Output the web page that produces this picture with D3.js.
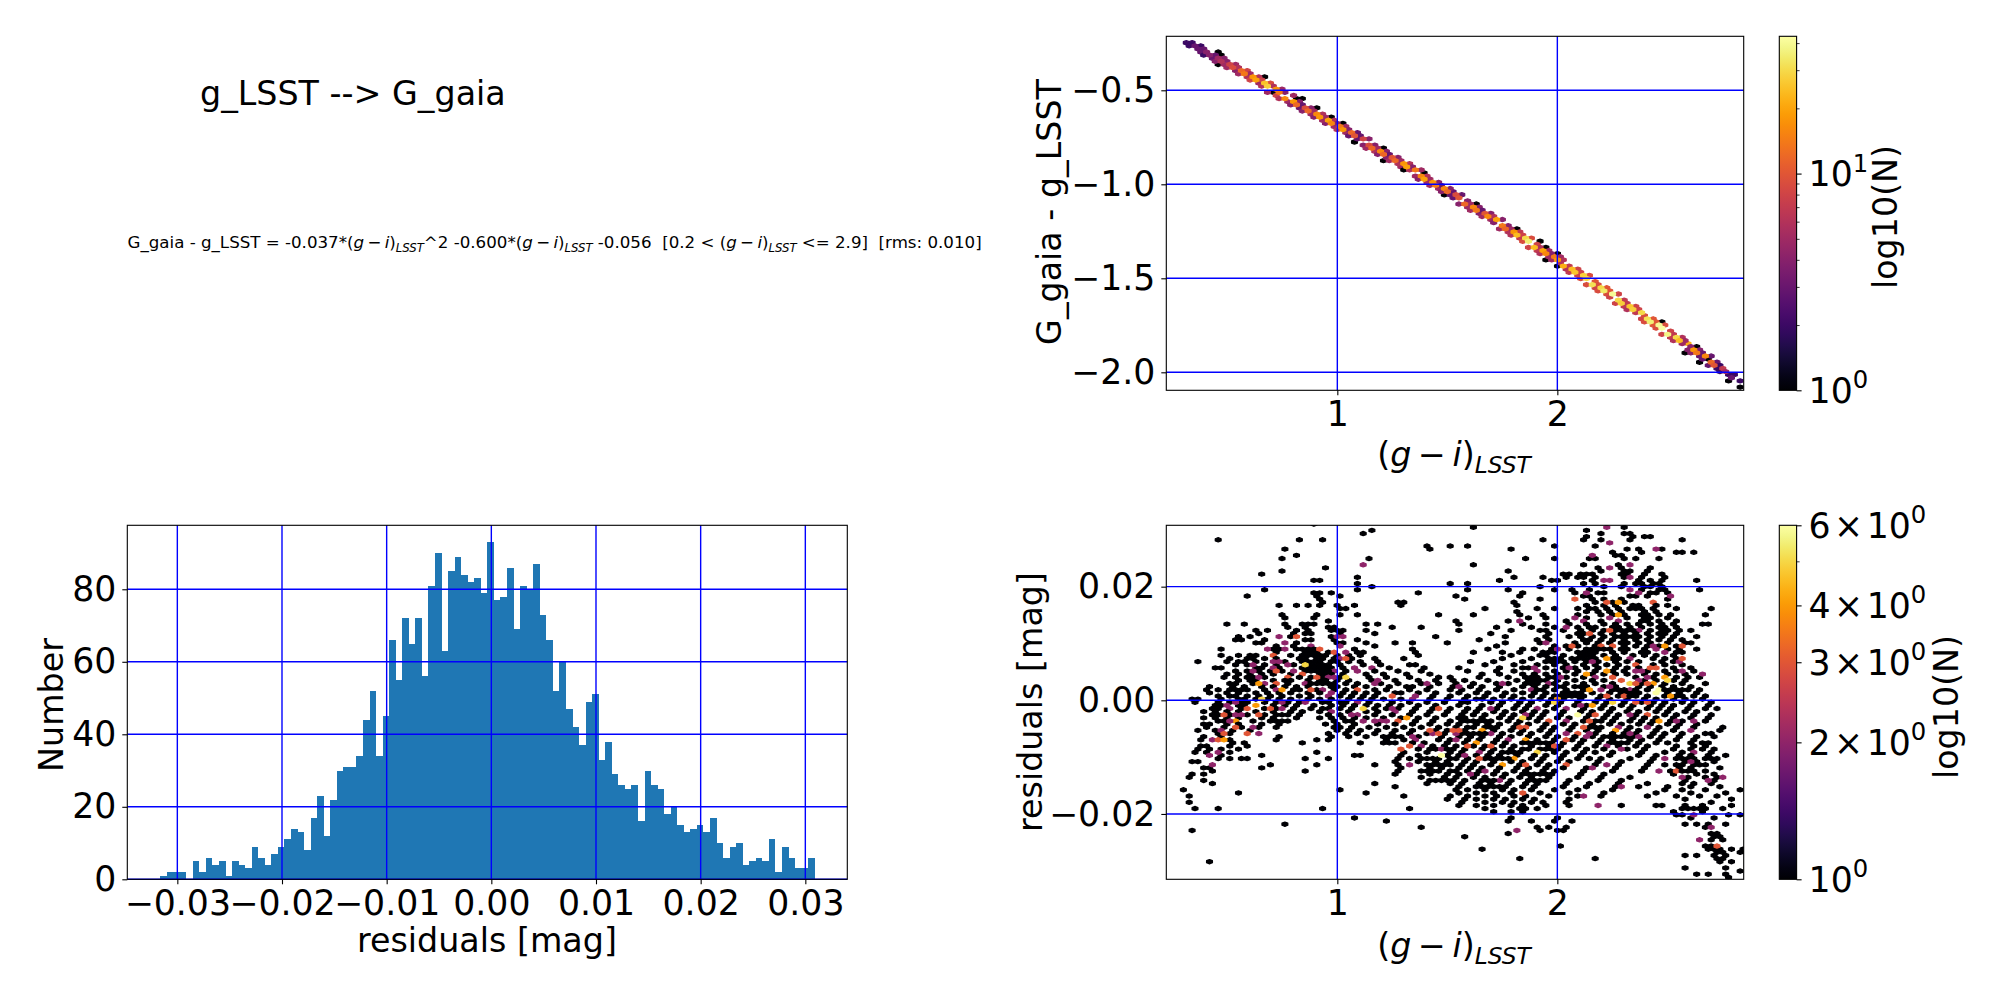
<!DOCTYPE html>
<html>
<head>
<meta charset="utf-8">
<script src="https://cdn.jsdelivr.net/npm/d3@7"></script>
<style>
body { margin: 0; background: #fff; }
svg text { font-family: "DejaVu Sans", sans-serif; fill: #000; white-space: pre; }
</style>
</head>
<body>
<svg id="fig" width="2000" height="1000"></svg>
<script>
// histogram of the residuals (100 bins)
const histMin = -0.03165, histMax = 0.0309;
const histCounts = [1,2,2,2,0,5,2,6,4,5,1,5,4,3,9,6,4,7,9,11,14,13,8,17,23,12,22,30,31,31,34,44,52,34,45,66,55,72,65,72,56,81,90,63,85,89,84,82,83,79,93,77,78,86,69,81,80,87,73,66,52,60,47,42,37,49,51,33,38,29,26,25,26,16,30,26,25,18,20,15,13,14,15,13,17,10,6,9,10,4,5,6,5,11,2,9,6,3,3,6];
const histXTicks = [-0.03,-0.02,-0.01,0,0.01,0.02,0.03];
const histYTicks = [0,20,40,60,80];

// upper right panel: colour term, read along the band
const bandX = [0.316,0.342,0.369,0.395,0.422,0.448,0.474,0.501,0.527,0.554,0.580,0.606,0.633,0.659,0.686,0.712,0.738,0.765,0.791,0.818,0.844,0.870,0.897,0.923,0.950,0.976,1.002,1.029,1.055,1.082,1.108,1.134,1.161,1.187,1.214,1.240,1.266,1.293,1.319,1.346,1.372,1.398,1.425,1.451,1.478,1.504,1.530,1.557,1.583,1.610,1.636,1.662,1.689,1.715,1.742,1.768,1.794,1.821,1.847,1.874,1.900,1.926,1.953,1.979,2.006,2.032,2.058,2.085,2.111,2.138,2.164,2.190,2.217,2.243,2.270,2.296,2.322,2.349,2.375,2.402,2.428,2.454,2.481,2.507,2.534,2.560,2.586,2.613,2.639,2.666,2.692,2.718,2.745,2.771,2.798,2.824];
const bandY = [-0.2493,-0.2655,-0.2824,-0.2988,-0.3158,-0.3323,-0.3487,-0.3659,-0.3825,-0.3998,-0.4165,-0.4332,-0.4506,-0.4675,-0.4850,-0.5020,-0.5189,-0.5367,-0.5537,-0.5716,-0.5887,-0.6060,-0.6240,-0.6413,-0.6594,-0.6769,-0.6943,-0.7126,-0.7302,-0.7485,-0.7662,-0.7840,-0.8025,-0.8203,-0.8389,-0.8569,-0.8749,-0.8937,-0.9118,-0.9306,-0.9489,-0.9671,-0.9861,-1.0045,-1.0236,-1.0421,-1.0606,-1.0799,-1.0985,-1.1179,-1.1366,-1.1554,-1.1750,-1.1938,-1.2135,-1.2325,-1.2515,-1.2713,-1.2904,-1.3103,-1.3296,-1.3488,-1.3689,-1.3883,-1.4085,-1.4280,-1.4475,-1.4679,-1.4875,-1.5079,-1.5277,-1.5475,-1.5681,-1.5880,-1.6087,-1.6287,-1.6487,-1.6696,-1.6897,-1.7107,-1.7309,-1.7512,-1.7723,-1.7927,-1.8139,-1.8344,-1.8549,-1.8763,-1.8969,-1.9184,-1.9391,-1.9599,-1.9815,-2.0024,-2.0242,-2.0452];
const bandN = [2,3,3,4,4,5,6,8,9,12,14,18,20,25,28,18,14,16,18,12,9,12,16,18,20,16,14,18,12,10,8,9,12,16,12,10,12,18,20,14,16,20,18,14,16,12,9,10,12,16,14,10,16,20,14,12,18,24,30,36,24,20,16,14,18,22,24,26,28,30,32,30,34,40,30,28,26,28,30,32,36,40,42,38,30,24,22,18,14,16,12,10,7,5,3,2];
const bandUpperN = [0,2,2,3,0,3,4,4,5,6,8,5,6,8,9,6,5,4,5,4,3,4,5,6,5,6,4,5,4,3,3,4,4,5,4,3,4,5,6,4,5,6,5,4,3,4,3,3,4,5,4,3,4,6,4,4,5,7,8,9,8,6,5,4,5,6,7,8,8,9,10,9,10,10,8,7,7,8,8,9,10,10,9,8,7,6,5,4,4,3,3,3,2,0,2,0];
const bandLowerN = [2,0,3,2,3,4,5,5,4,5,6,8,5,6,5,8,6,5,4,3,4,5,4,5,4,5,6,5,3,3,4,5,6,4,4,5,6,5,6,5,4,5,5,5,4,3,3,4,5,5,4,5,5,4,5,6,6,7,9,8,7,6,5,5,6,6,7,8,9,9,8,9,9,8,8,7,6,7,8,9,10,9,8,7,6,5,4,4,3,3,3,2,2,2,0,0];
const bandHalfWidth = 0.018;
const bandOutliers = [[0.446,-0.289],[0.472,-0.321],[0.446,-0.356],[0.487,-0.342],[0.675,-0.436],[0.684,-0.454],[0.699,-0.507],[0.771,-0.557],[0.806,-0.539],[0.835,-0.539],[0.872,-0.626],[0.896,-0.587],[0.936,-0.672],[0.974,-0.640],[1.032,-0.676],[1.075,-0.773],[1.206,-0.805],[1.220,-0.874],[1.287,-0.906],[1.299,-0.927],[1.394,-0.941],[1.461,-0.991],[1.481,-1.060],[1.525,-1.039],[1.568,-1.057],[1.635,-1.105],[1.751,-1.190],[1.820,-1.243],[1.872,-1.340],[1.887,-1.293],[1.922,-1.305],[1.951,-1.340],[1.939,-1.394],[2.003,-1.376],[2.003,-1.443],[2.264,-1.637],[2.380,-1.722],[2.472,-1.727],[2.568,-1.810],[2.583,-1.890],[2.597,-1.846],[2.635,-1.860],[2.646,-1.943],[2.684,-1.926],[2.777,-2.014],[2.780,-2.046],[2.829,-2.080]];
const colourYTicks = [-0.5,-1.0,-1.5,-2.0];
const colourXTicks = [1,2];

// lower right panel: cells holding one star, as [residual, [colours]]
const resOnes = [
[0.0308,[0.90]],[0.0304,[1.63,2.30]],[0.0299,[1.17,2.12]],[0.0293,[1.13,2.19,2.21,2.30,2.34]],[0.0288,[2.13,2.34,2.39,2.42]],
[0.0282,[0.46,0.84,0.92,1.93,2.13,2.19,2.32,2.57]],[0.0271,[1.41,1.50,1.58,1.98,2.00,2.17]],[0.0266,[0.77,1.41,1.78,2.32,2.38,2.47]],
[0.0260,[2.25,2.38,2.53,2.57,2.62]],[0.0255,[0.82,2.26,2.30]],[0.0249,[0.75,1.15,1.85,1.98,2.14,2.18,2.30,2.35,2.47]],
[0.0238,[1.61,2.13,2.29,2.32,2.33]],[0.0232,[0.95,2.19,2.28,2.42]],[0.0227,[0.75,1.77,2.21,2.30,2.33,2.41]],
[0.0222,[0.66,2.03,2.05,2.10,2.13,2.16,2.28,2.32,2.40,2.47]],[0.0216,[1.08,1.79,1.93,2.03,2.08,2.12,2.18,2.30,2.38,2.48]],
[0.0211,[0.90,0.93,1.75,1.98,2.01,2.17,2.37,2.43,2.47,2.63]],[0.0205,[1.08,1.50,1.60,2.11,2.17,2.30,2.35,2.39,2.44,2.46]],
[0.0199,[1.17,1.92,2.21,2.28,2.39,2.43,2.47]],[0.0194,[0.68,1.08,1.60,1.77,2.00,2.07,2.15,2.38,2.46,2.49,2.65]],
[0.0189,[0.90,0.93,0.98,1.38,1.83,2.08,2.18,2.22,2.42,2.46,2.50]],[0.0183,[0.60,0.91,1.02,1.54,1.84,2.12,2.15,2.33,2.36,2.42]],
[0.0178,[0.91,1.57,1.93,2.17,2.22,2.30,2.49]],[0.0172,[0.94,1.27,1.29,1.80,2.17,2.24,2.31,2.44]],
[0.0167,[0.74,0.82,0.88,0.93,1.01,1.08,1.30,1.82,2.13,2.20,2.26,2.35,2.38,2.44,2.51]],
[0.0161,[1.02,1.05,1.68,1.90,2.00,2.10,2.14,2.16,2.22,2.28,2.33,2.35,2.39,2.43,2.53,2.69]],[0.0156,[1.82,2.12,2.18,2.24,2.30,2.40,2.44]],
[0.0150,[0.76,0.91,1.02,1.08,1.47,1.62,1.84,1.94,2.10,2.20,2.25,2.31,2.37,2.41,2.46,2.52,2.66]],[0.0145,[0.77,0.90,1.86,1.96,2.13,2.23,2.33,2.39,2.43,2.50]],
[0.0139,[0.97,1.53,1.77,2.03,2.05,2.11,2.19,2.27,2.37,2.41,2.47,2.55]],
[0.0134,[0.50,0.58,0.76,0.85,0.87,0.89,1.12,1.19,1.56,1.84,1.95,2.06,2.14,2.21,2.26,2.31,2.36,2.42,2.48,2.52,2.66,2.68]],
[0.0128,[0.77,0.86,0.97,0.98,1.26,1.37,1.72,1.88,1.98,2.08,2.14,2.18,2.24,2.29,2.33,2.38,2.45,2.50,2.53]],
[0.0123,[0.64,0.69,0.82,0.88,1.00,1.12,1.55,1.80,1.91,1.94,2.04,2.10,2.16,2.22,2.27,2.32,2.36,2.41,2.47,2.51,2.56,2.60]],
[0.0117,[0.65,0.81,0.86,0.89,1.00,1.18,1.70,1.97,2.09,2.13,2.19,2.25,2.30,2.35,2.40,2.45,2.49,2.55]],
[0.0112,[0.55,0.61,0.79,1.44,1.76,1.95,2.05,2.10,2.16,2.21,2.27,2.33,2.38,2.43,2.48,2.54,2.63]],
[0.0106,[0.54,0.56,0.66,0.85,0.88,0.98,1.08,1.65,1.90,1.96,2.11,2.15,2.20,2.24,2.30,2.35,2.40,2.46,2.51,2.56]],
[0.0101,[0.63,0.65,0.81,1.14,1.25,1.35,1.49,1.76,1.92,2.08,2.13,2.19,2.23,2.28,2.33,2.38,2.43,2.50,2.58,2.60]],
[0.0096,[0.72,0.80,0.88,1.18,1.73,1.98,2.04,2.10,2.16,2.21,2.26,2.31,2.36,2.41,2.47,2.53]],
[0.0090,[0.46,0.72,0.74,0.82,0.86,0.89,1.07,1.33,1.68,1.85,1.90,1.97,2.06,2.12,2.17,2.23,2.29,2.33,2.39,2.44,2.50,2.56,2.63]],
[0.0084,[0.72,0.86,0.88,0.91,0.97,1.09,1.13,1.35,1.62,1.75,1.84,1.93,1.99,2.08,2.14,2.18,2.25,2.31,2.37,2.42,2.48,2.54,2.58]],
[0.0079,[0.48,0.56,0.60,0.63,0.70,0.78,0.84,0.88,0.92,0.95,1.00,1.04,1.10,1.36,1.78,1.92,1.95,2.04,2.10,2.15,2.20,2.27,2.35,2.40,2.46,2.52]],
[0.0073,[0.52,0.58,0.62,0.67,0.72,0.82,0.86,0.90,0.94,0.98,1.02,1.06,1.17,1.29,1.75,1.88,1.97,2.01,2.07,2.12,2.17,2.24,2.29,2.33,2.44,2.50,2.55]],
[0.0068,[0.36,0.50,0.54,0.59,0.64,0.75,0.84,0.87,0.92,0.96,1.00,1.04,1.11,1.18,1.61,1.72,1.85,1.94,2.03,2.09,2.14,2.19,2.26,2.31,2.37,2.47,2.53]],
[0.0062,[0.55,0.60,0.68,0.72,0.80,0.88,0.91,0.94,0.97,1.00,1.13,1.20,1.32,1.36,1.68,1.80,1.90,1.98,2.05,2.11,2.16,2.23,2.29,2.35,2.43,2.50,2.56]],
[0.0057,[0.45,0.48,0.62,0.66,0.74,0.83,0.89,0.93,0.96,1.02,1.07,1.17,1.23,1.40,1.54,1.74,1.85,1.88,1.95,2.02,2.07,2.13,2.19,2.26,2.33,2.38,2.45,2.52,2.60]],
[0.0051,[0.54,0.58,0.64,0.70,0.76,0.86,0.90,0.93,0.99,1.05,1.10,1.16,1.27,1.37,1.60,1.72,1.80,1.92,1.98,2.04,2.10,2.18,2.24,2.30,2.36,2.42,2.48,2.54,2.62]],
[0.0046,[0.50,0.56,0.61,0.66,0.72,0.80,0.85,0.91,0.95,0.98,1.03,1.12,1.20,1.31,1.43,1.66,1.75,1.84,1.89,1.95,2.00,2.07,2.15,2.21,2.27,2.33,2.40,2.46,2.51,2.57]],
[0.0040,[0.49,0.53,0.58,0.62,0.68,0.77,0.83,0.89,0.93,0.96,1.01,1.14,1.22,1.33,1.46,1.50,1.64,1.78,1.86,1.92,1.97,2.03,2.12,2.18,2.25,2.36,2.43,2.49,2.55,2.60,2.64]],
[0.0035,[0.55,0.60,0.64,0.70,0.75,0.80,0.87,0.91,0.94,1.00,1.05,1.17,1.26,1.37,1.44,1.52,1.58,1.68,1.81,1.88,1.94,2.00,2.09,2.15,2.22,2.28,2.40,2.46,2.52,2.58]],
[0.0029,[0.50,0.54,0.62,0.68,0.72,0.78,0.85,0.89,0.92,0.98,1.03,1.09,1.20,1.28,1.39,1.47,1.55,1.62,1.72,1.78,1.85,1.91,1.97,2.05,2.11,2.18,2.25,2.32,2.38,2.44,2.50,2.56,2.66]],
[0.0024,[0.42,0.52,0.57,0.65,0.70,0.76,0.82,0.87,0.96,1.01,1.07,1.12,1.24,1.31,1.35,1.43,1.52,1.60,1.67,1.75,1.83,1.89,1.95,2.02,2.08,2.14,2.21,2.27,2.36,2.42,2.47,2.54,2.62]],
[0.0018,[0.40,0.47,0.51,0.56,0.60,0.66,0.73,0.79,0.84,0.90,0.94,0.99,1.05,1.10,1.16,1.22,1.33,1.41,1.50,1.57,1.64,1.72,1.80,1.87,1.92,1.99,2.05,2.12,2.19,2.25,2.33,2.40,2.46,2.52,2.60,2.65]],
[0.0013,[0.43,0.50,0.55,0.62,0.68,0.74,0.78,0.86,0.92,0.97,1.03,1.08,1.14,1.19,1.26,1.30,1.38,1.46,1.54,1.62,1.69,1.77,1.84,1.90,1.96,2.03,2.10,2.16,2.23,2.30,2.37,2.44,2.50,2.56,2.63]],
[0.0007,[0.47,0.51,0.55,0.60,0.64,0.70,0.76,0.82,0.88,0.95,1.00,1.06,1.12,1.18,1.24,1.36,1.44,1.52,1.60,1.67,1.74,1.80,1.87,1.93,2.00,2.07,2.13,2.20,2.27,2.35,2.41,2.48,2.54,2.61,2.68]],
[0.0002,[0.35,0.37,0.48,0.54,0.58,0.63,0.67,0.73,0.80,0.86,0.93,0.98,1.04,1.10,1.15,1.22,1.28,1.42,1.50,1.58,1.62,1.65,1.71,1.78,1.85,1.91,1.98,2.04,2.11,2.18,2.25,2.32,2.39,2.46,2.52,2.58,2.65]],
[-0.0004,[0.36,0.45,0.50,0.56,0.60,0.66,0.71,0.78,0.84,0.92,0.96,1.00,1.03,1.08,1.14,1.26,1.33,1.40,1.48,1.56,1.60,1.69,1.76,1.83,1.89,1.96,2.02,2.09,2.16,2.23,2.30,2.37,2.44,2.50,2.56,2.63,2.70]],
[-0.0009,[0.44,0.48,0.54,0.58,0.62,0.70,0.76,0.82,0.90,0.97,1.02,1.08,1.13,1.19,1.24,1.30,1.38,1.46,1.54,1.67,1.74,1.81,1.87,1.94,2.00,2.07,2.14,2.21,2.28,2.35,2.42,2.48,2.54,2.61,2.68]],
[-0.0015,[0.43,0.47,0.52,0.56,0.60,0.66,0.73,0.80,0.87,0.92,0.96,1.00,1.06,1.16,1.22,1.28,1.36,1.44,1.52,1.60,1.65,1.72,1.79,1.85,1.92,1.98,2.05,2.12,2.19,2.26,2.33,2.40,2.46,2.52,2.59,2.66,2.72]],
[-0.0020,[0.40,0.45,0.50,0.54,0.64,0.70,0.78,0.84,0.93,0.97,1.04,1.12,1.18,1.26,1.34,1.42,1.50,1.58,1.63,1.70,1.77,1.83,1.90,1.96,2.03,2.10,2.17,2.24,2.31,2.38,2.44,2.50,2.57,2.64]],
[-0.0026,[0.42,0.47,0.52,0.60,0.68,0.76,0.83,0.95,1.02,1.10,1.16,1.24,1.32,1.40,1.48,1.56,1.61,1.68,1.75,1.81,1.88,1.94,2.01,2.08,2.15,2.22,2.29,2.36,2.42,2.48,2.55,2.62,2.70]],
[-0.0031,[0.40,0.45,0.50,0.56,0.66,0.72,0.81,0.93,0.98,1.02,1.08,1.14,1.22,1.30,1.38,1.46,1.54,1.59,1.66,1.73,1.79,1.86,1.92,1.99,2.06,2.13,2.20,2.27,2.34,2.40,2.46,2.53,2.60,2.68]],
[-0.0037,[0.45,0.48,0.55,0.62,0.70,0.77,0.98,1.04,1.06,1.12,1.20,1.28,1.36,1.44,1.52,1.57,1.64,1.71,1.77,1.84,1.90,1.97,2.04,2.11,2.18,2.25,2.32,2.38,2.44,2.51,2.58,2.66]],
[-0.0042,[0.38,0.42,0.50,0.54,0.66,0.73,0.95,1.00,1.09,1.18,1.26,1.34,1.42,1.50,1.55,1.62,1.69,1.75,1.82,1.88,1.95,2.02,2.09,2.16,2.23,2.30,2.36,2.42,2.49,2.56,2.64]],
[-0.0048,[0.41,0.48,0.57,0.64,0.72,0.98,1.02,1.07,1.14,1.22,1.30,1.38,1.46,1.53,1.60,1.67,1.73,1.80,1.86,1.93,2.00,2.07,2.14,2.21,2.28,2.34,2.40,2.47,2.54,2.62,2.76]],
[-0.0053,[0.37,0.44,0.52,0.60,0.99,1.04,1.11,1.18,1.26,1.34,1.44,1.51,1.58,1.65,1.71,1.78,1.84,1.91,1.98,2.05,2.12,2.19,2.26,2.32,2.38,2.45,2.52,2.60,2.73]],
[-0.0059,[0.46,0.51,0.97,1.03,1.09,1.16,1.24,1.33,1.42,1.49,1.56,1.63,1.69,1.76,1.82,1.89,1.96,2.03,2.10,2.17,2.24,2.30,2.36,2.43,2.50,2.58,2.66,2.70]],
[-0.0064,[0.40,0.47,0.74,0.96,1.06,1.13,1.21,1.30,1.38,1.47,1.54,1.61,1.67,1.74,1.80,1.87,1.94,2.01,2.08,2.15,2.22,2.28,2.34,2.41,2.48,2.55,2.64,2.72]],
[-0.0070,[0.38,0.44,0.50,0.73,0.90,0.95,1.22,1.30,1.36,1.45,1.52,1.59,1.65,1.72,1.78,1.85,1.92,1.99,2.06,2.13,2.20,2.26,2.32,2.39,2.46,2.53,2.62]],
[-0.0075,[0.52,0.58,0.85,1.10,1.33,1.40,1.50,1.57,1.63,1.70,1.76,1.83,1.90,1.97,2.04,2.11,2.18,2.24,2.30,2.37,2.44,2.51,2.60,2.65,2.69]],
[-0.0081,[0.37,0.39,0.41,0.50,0.60,1.37,1.44,1.48,1.55,1.61,1.68,1.74,1.81,1.88,1.95,2.02,2.09,2.16,2.22,2.28,2.35,2.42,2.55,2.63,2.67]],
[-0.0086,[0.36,0.43,0.48,0.55,1.36,1.42,1.46,1.53,1.59,1.66,1.72,1.79,1.86,1.93,2.00,2.07,2.14,2.20,2.33,2.40,2.53,2.60,2.65,2.72]],
[-0.0092,[0.35,0.41,0.52,0.90,1.30,1.40,1.51,1.57,1.64,1.70,1.77,1.84,1.91,1.98,2.05,2.12,2.18,2.26,2.38,2.50,2.58,2.63,2.70]],
[-0.0097,[0.47,0.66,1.08,1.11,1.28,1.38,1.49,1.55,1.62,1.68,1.75,1.82,1.89,1.96,2.03,2.10,2.24,2.36,2.46,2.56,2.61,2.68,2.76]],
[-0.0103,[0.45,0.50,0.56,0.60,0.86,0.97,1.28,1.34,1.47,1.53,1.60,1.66,1.73,1.80,1.87,1.94,2.01,2.08,2.14,2.21,2.34,2.44,2.54,2.59,2.66,2.72]],
[-0.0108,[0.34,0.36,1.26,1.36,1.45,1.51,1.58,1.64,1.71,1.78,1.85,1.92,1.99,2.06,2.18,2.30,2.43,2.58,2.64,2.70]],
[-0.0114,[0.70,0.91,1.16,1.28,1.33,1.43,1.49,1.56,1.62,1.69,1.76,1.83,1.90,1.97,2.04,2.16,2.28,2.42,2.50,2.56,2.62,2.68]],
[-0.0119,[0.38,0.41,0.66,1.30,1.41,1.47,1.54,1.60,1.67,1.74,1.81,1.88,1.95,2.02,2.14,2.26,2.40,2.55,2.61,2.74]],
[-0.0125,[0.43,0.86,1.27,1.39,1.45,1.52,1.58,1.65,1.72,1.79,1.86,1.93,2.00,2.12,2.24,2.38,2.52,2.59,2.66]],
[-0.0130,[0.35,0.38,1.25,1.43,1.50,1.56,1.63,1.70,1.77,1.84,1.91,1.98,2.10,2.22,2.53,2.64,2.70]],
[-0.0136,[0.32,1.37,1.48,1.54,1.61,1.68,1.75,1.82,1.89,1.96,2.08,2.20,2.32,2.60,2.68,2.73]],
[-0.0141,[0.40,1.41,1.46,1.52,1.59,1.66,1.73,1.80,1.87,1.94,2.06,2.18,2.30,2.58,2.72]],
[-0.0147,[0.43,1.18,1.40,1.50,1.57,1.64,1.71,1.78,1.85,1.92,2.04,2.14,2.28,2.40,2.56,2.62,2.70]],
[-0.0152,[1.27,1.55,1.62,1.69,1.76,1.83,1.90,2.02,2.12,2.26,2.38,2.50,2.60,2.75]],
[-0.0158,[0.30,1.02,1.53,1.60,1.67,1.74,1.81,1.88,2.00,2.10,2.24,2.48,2.58,2.68,2.83]],
[-0.0163,[0.55,1.12,1.55,1.62,1.72,1.79,1.92,2.06,2.22,2.46,2.62,2.77]],
[-0.0168,[0.33,1.31,1.52,1.59,1.66,1.72,1.80,1.86,1.95,2.08,2.20,2.40,2.55,2.64,2.72]],
[-0.0174,[1.50,1.58,1.64,1.70,1.76,1.83,1.90,2.05,2.58,2.80]],
[-0.0179,[0.33,1.56,1.68,1.74,1.81,1.88,1.93,2.05,2.70]],
[-0.0185,[1.54,1.62,1.70,1.78,1.85,1.96,2.05,2.28,2.45,2.48,2.57,2.67,2.79]],
[-0.0191,[0.36,0.46,0.93,1.33,1.66,1.82,1.86,1.91,2.57,2.59,2.62,2.64,2.68,2.74]],
[-0.0196,[1.72,1.78,1.84,2.53,2.66]],[-0.0201,[2.55,2.58,2.77,2.82]],[-0.0207,[1.09,1.78,1.99,2.60,2.72]],
[-0.0212,[1.23,1.77,1.88,2.00,2.06]],[-0.0218,[0.77,2.57,2.63,2.68,2.76]],[-0.0223,[1.37,1.92,1.95,2.03,2.66]],
[-0.0229,[0.34,1.92,2.00,2.03]],[-0.0234,[1.77,2.70,2.72]],[-0.0240,[1.57,2.72,2.75]],[-0.0245,[2.70,2.74]],
[-0.0256,[2.01,2.67,2.70]],[-0.0262,[1.66,2.68,2.71,2.74,2.80,2.84]],[-0.0267,[2.72,2.76,2.82,2.85]],[-0.0272,[2.58,2.63,2.72,2.76]],
[-0.0278,[1.82,2.17,2.72,2.75]],[-0.0284,[0.42,2.74,2.78]],[-0.0295,[2.58,2.76]],[-0.0300,[2.84]],[-0.0306,[2.63,2.69,2.76]],[-0.0311,[2.77]]
];
// black clumps of touching cells in the crowded parts of the cloud
const resClumps = [
[0.0123,[0.97,1.00,1.03,2.29,2.32,2.35]],[0.0112,[0.97,1.00,1.03,2.29,2.32,2.35]],[0.0101,[0.99,1.02]],
[0.0090,[0.85,0.88,0.91,2.18,2.21,2.24]],[0.0084,[2.09,2.12,2.15,2.18,1.97,2.00]],[0.0079,[0.86,0.89,0.92,2.10,2.13,2.16]],[0.0073,[2.09,2.12,2.15,2.18,1.97,2.00]],[0.0068,[0.86,0.89,1.98,2.01]],
[0.0057,[0.86,0.89,0.92,0.95,0.98]],[0.0051,[0.88,0.91,0.94,0.97]],[0.0040,[0.87,0.90,0.93,0.96,1.86,1.89,1.92,1.95,1.98]],[0.0035,[1.87,1.90,1.93,1.96,1.99]],
[0.0029,[0.87,0.90,0.93,0.96,1.86,1.89,1.92,1.95,1.98]],[0.0024,[2.01,2.04,2.07,2.10,2.13]],[0.0018,[0.51,0.54,0.57,1.88,1.91,1.94,2.27,2.30,2.33,2.36,2.48,2.51,2.54,2.57]],
[0.0013,[2.02,2.05,2.08,2.11,2.28,2.31,2.34]],[0.0007,[0.52,0.55,0.58,2.01,2.04,2.07,2.10,2.13,2.27,2.30,2.33,2.36,2.48,2.51,2.54,2.57]],
[-0.0026,[0.68,0.71,0.74,0.77]],[-0.0035,[0.69,0.72,0.75,1.59,1.62,1.65,1.68,2.12,2.15,2.18,2.21]],[-0.0046,[1.60,1.63,1.66,1.69,2.12,2.15,2.18,2.21]],[-0.0058,[1.59,1.62,1.65,1.68,1.71]],
[-0.0064,[1.21,1.24,1.27,2.24,2.27,2.30,2.33,2.36]],[-0.0075,[1.21,1.24,1.27,1.85,1.88,1.91,1.94,1.97,2.24,2.27,2.30,2.33,2.36]],[-0.0086,[1.38,1.41,1.44,1.47,1.50,1.85,1.88,1.91,1.94,1.97]],[-0.0092,[1.71,1.74,1.77,1.80]],
[-0.0103,[1.38,1.41,1.44,1.47,1.50,1.71,1.74,1.77,1.80,2.54,2.57,2.60,2.63,2.66,2.69]],[-0.0114,[1.40,1.43,1.46,1.49,1.52,2.55,2.58,2.61,2.64,2.67]],
[-0.0125,[1.41,1.44,1.47,1.50,1.53,2.54,2.57,2.60,2.63,2.66]],[-0.0130,[1.86,1.89,1.92,1.95,1.97]],[-0.0141,[1.48,1.51,1.53,1.66,1.69,1.72,1.74,1.87,1.90,1.93,1.96]],[-0.0152,[1.66,1.69,1.72,1.74]]
];
// cells holding two stars and more, as [colour, residual]
const resTwos = [[0.74,0.0112],[0.99,0.0112],[1.03,0.0112],[0.69,0.0090],[0.77,0.0100],[0.77,0.0090],[0.89,0.0094],[1.02,0.0094],[1.03,0.0084],[0.62,0.0062],[0.70,0.0068],[0.74,0.0068],[0.78,0.0062],[0.71,0.0056],[0.81,0.0050],[0.98,0.0050],[1.02,0.0074],[1.07,0.0056],[1.10,0.0050],[1.17,0.0056],[1.19,0.0036],[1.41,0.0030],[1.54,0.0024],[0.62,0.0050],[0.64,0.0040],[0.66,0.0030],[0.86,0.0030],[0.95,0.0042],[0.98,0.0042],[1.16,0.0030],[0.71,0.0018],[0.74,0.0018],[0.94,0.0018],[0.97,0.0006],[0.98,0.0012],[1.36,0.0009],[1.34,0.0004],[0.54,-0.0002],[0.76,-0.0002],[0.86,-0.0002],[1.10,-0.0004],[0.50,-0.0010],[0.51,-0.0017],[0.75,-0.0014],[0.98,-0.0020],[1.07,-0.0026],[1.10,-0.0026],[1.13,-0.0035],[1.16,-0.0035],[1.19,-0.0035],[1.22,-0.0038],[1.26,-0.0017],[1.27,-0.0020],[0.53,-0.0026],[0.56,-0.0026],[0.50,-0.0035],[0.62,-0.0046],[0.48,-0.0052],[0.63,-0.0058],[0.44,-0.0070],[0.47,-0.0090],[0.42,-0.0096],[0.44,-0.0114],[1.33,-0.0064],[1.36,-0.0070],[1.39,-0.0082],[1.44,-0.0061],[1.48,-0.0087],[1.53,-0.0070],[1.54,-0.0058],[1.34,-0.0114],[1.13,0.0238],
[2.22,0.0304],[2.23,0.0276],[2.16,0.0255],[2.44,0.0266],[2.23,0.0232],[2.32,0.0238],[2.33,0.0216],[2.22,0.0211],[2.23,0.0211],[2.33,0.0194],[2.13,0.0189],[2.37,0.0189],[2.51,0.0183],[1.82,0.0139],[2.07,0.0145],[2.12,0.0139],[2.24,0.0145],[2.28,0.0139],[2.03,0.0128],[2.37,0.0123],[2.44,0.0096],[2.45,0.0090],[2.48,0.0084],[2.34,0.0073],[2.15,0.0068],[2.56,0.0068],[1.94,0.0101],[1.99,0.0090],[1.89,0.0056],[1.92,0.0050],[2.06,0.0056],[2.02,0.0040],[1.75,0.0030],[1.88,0.0018],[1.96,0.0030],[2.16,0.0039],[2.36,0.0050],[2.39,0.0050],[2.42,0.0042],[2.38,0.0036],[2.33,0.0018],[2.24,0.0024],[2.20,0.0018],[2.66,0.0046],[2.57,0.0052],[1.69,-0.0014],[1.86,-0.0026],[1.91,-0.0014],[2.03,-0.0014],[2.10,-0.0008],[2.32,-0.0026],[2.34,-0.0026],[2.42,-0.0046],[2.45,-0.0035],[2.54,-0.0036],[2.60,-0.0052],[2.63,-0.0035],[1.71,-0.0058],[1.78,-0.0070],[2.03,-0.0038],[2.04,-0.0058],[2.15,-0.0058],[2.13,-0.0064],[2.27,-0.0046],[2.33,-0.0058],[2.37,-0.0064],[2.22,-0.0082],[2.30,-0.0087],[2.63,-0.0090],[2.61,-0.0108],[2.49,-0.0102],[2.46,-0.0126],[2.16,-0.0118],[2.22,-0.0114],[2.57,-0.0136],[2.69,-0.0140],[2.75,-0.0134],[2.28,-0.0152],[2.12,-0.0168],[2.18,-0.0185],[2.62,-0.0202],[2.70,-0.0223],[2.65,-0.0246],[1.81,-0.0229],[1.65,-0.0091],[1.60,-0.0130],[1.58,-0.0099],[1.66,-0.0126],[1.75,-0.0141]];
const resThrees = [[0.82,0.0112],[0.71,0.0078],[0.93,0.0090],[0.99,0.0084],[1.05,0.0074],[0.72,0.0050],[0.77,0.0040],[0.73,0.0030],[0.85,0.0045],[0.91,0.0040],[0.89,0.0018],[1.10,0.0018],[1.24,0.0008],[0.59,-0.0014],[0.70,-0.0014],[0.65,-0.0026],[0.48,-0.0026],[0.54,-0.0046],[0.59,-0.0058],[0.49,-0.0058],[0.46,-0.0070],[1.28,-0.0038],[1.45,-0.0014],[1.41,-0.0052],[1.47,-0.0058],[1.54,-0.0052],[1.32,-0.0080],[1.28,-0.0086],
[2.08,0.0178],[2.22,0.0172],[2.43,0.0172],[2.24,0.0123],[2.14,0.0118],[2.06,0.0096],[2.19,0.0096],[2.24,0.0096],[2.57,0.0096],[2.57,0.0073],[2.35,0.0062],[2.41,0.0056],[2.44,0.0056],[2.24,0.0040],[2.30,0.0036],[2.36,0.0030],[2.42,0.0030],[2.22,0.0008],[2.30,0.0008],[2.35,-0.0004],[2.41,-0.0004],[2.18,-0.0023],[2.41,-0.0024],[2.14,-0.0036],[2.11,-0.0047],[2.03,-0.0068],[1.98,-0.0082],[1.82,-0.0046],[1.86,-0.0046],[1.69,-0.0080],[1.58,-0.0082],[1.64,-0.0102],[1.53,-0.0053],[1.85,-0.0114],[2.03,-0.0114],[1.83,-0.0164],[2.72,-0.0256],[2.54,-0.0126],[2.09,-0.0058],[1.95,-0.0036]];
const resFours = [[0.65,0.0030],[0.75,0.0018],[0.48,-0.0070],[0.54,-0.0036],[1.32,-0.0032],[0.63,-0.0008],[2.27,0.0172],[2.27,0.0150],[2.49,0.0096],[2.22,0.0073],[2.12,0.0045],[2.22,0.0050],[2.14,0.0018],[2.48,0.0040],[2.51,0.0008],[2.47,-0.0036],[1.85,-0.0070],[1.80,-0.0102],[1.74,-0.0114],[2.00,0.0001],[1.67,-0.0052],[1.62,-0.0074],[2.44,0.0030],[2.15,-0.0008],[2.26,-0.0055]];
const resFives = [[0.86,0.0062],[1.05,0.0040],[1.13,-0.0014],[0.66,0.0004],[2.32,0.0030],[2.25,-0.0004],[1.98,-0.0004],[1.83,-0.0030],[1.90,-0.0091],[2.50,0.0033]];
const resSixes = [[1.48,-0.0096],[2.09,-0.0026],[2.45,0.0018],[2.44,0.0012]];
const resYTicks = [-0.02,0,0.02];

// colour bars
const colourNMax = 43;
const colourBarMajor = [1,10];
const colourBarMinor = [2,3,4,5,6,7,8,9,20,30,40];
const resNMax = 6;
const resBarMajor = [1,2,3,4,6];
const resBarMinor = [5];

const svg = d3.select("#fig");

const fontSize = 33.3;
const tickFontSize = 34.7;
const panelX = [1166.3, 1743.7];
const barX = [1779.3, 1796.6];
const topPanel = [36.3, 390.3];
const lowPanel = [525.3, 879.3];

const xColour = d3.scaleLinear().domain([0.2227, 2.847]).range(panelX);
const yColour = d3.scaleLinear().domain([-0.2128, -2.0957]).range(topPanel);
const yRes = d3.scaleLinear().domain([0.0308, -0.0315]).range(lowPanel);
const xHist = d3.scaleLinear().domain([-0.03478, 0.03401]).range([127.3, 847.3]);
const yHist = d3.scaleLinear().domain([0, 97.65]).range([879.3, 525.3]);

const colourN = d3.scaleSequentialLog(d3.interpolateInferno).domain([1, colourNMax]);
const resN = d3.scaleSequentialLog(d3.interpolateInferno).domain([1, resNMax]);

const defs = svg.append("defs");

function styleAxis(g) {
    g.selectAll("path.domain").remove();
    g.selectAll(".tick line").attr("stroke", "#000").attr("stroke-width", 1.1);
    g.selectAll(".tick text").attr("font-size", tickFontSize).attr("font-family", "DejaVu Sans").attr("fill", "#000");
}

function drawGrid(g, x, y, xTicks, yTicks) {
    g.selectAll(".vgrid").data(xTicks).enter().append("line").attr("class", "vgrid")
        .attr("x1", d => x(d)).attr("x2", d => x(d))
        .attr("y1", y.range()[0]).attr("y2", y.range()[1])
        .attr("stroke", "#0000ff").attr("stroke-width", 1.4);
    g.selectAll(".hgrid").data(yTicks).enter().append("line").attr("class", "hgrid")
        .attr("x1", x.range()[0]).attr("x2", x.range()[1])
        .attr("y1", d => y(d)).attr("y2", d => y(d))
        .attr("stroke", "#0000ff").attr("stroke-width", 1.4);
}

function drawFrame(x, y) {
    const [x0, x1] = x.range();
    const [y0, y1] = y.range();
    svg.append("rect")
        .attr("x", Math.min(x0, x1)).attr("y", Math.min(y0, y1))
        .attr("width", Math.abs(x1 - x0)).attr("height", Math.abs(y1 - y0))
        .attr("fill", "none").attr("stroke", "#000").attr("stroke-width", 1.1);
}

function drawAxes(x, y, xTicks, yTicks, xFmt, yFmt) {
    const bottom = Math.max(...y.range());
    const left = Math.min(...x.range());
    svg.append("g").attr("transform", `translate(0,${bottom})`)
        .call(d3.axisBottom(x).tickValues(xTicks).tickFormat(xFmt).tickSize(5).tickPadding(6))
        .call(styleAxis);
    svg.append("g").attr("transform", `translate(${left},0)`)
        .call(d3.axisLeft(y).tickValues(yTicks).tickFormat(yFmt).tickSize(5).tickPadding(6))
        .call(styleAxis);
}

// matplotlib style mathtext: (g - i) with LSST as italic subscript
function mathTerm(t, size) {
    t.append("tspan").text("(");
    t.append("tspan").attr("font-style", "italic").text("g");
    t.append("tspan").text("\u2009\u2212\u2009");
    t.append("tspan").attr("font-style", "italic").text("i");
    t.append("tspan").text(")");
    t.append("tspan").attr("font-style", "italic").attr("font-size", size * 0.7).attr("dy", size * 0.22).text("LSST");
}

function verticalLabel(x, y, label) {
    svg.append("text").attr("transform", `translate(${x},${y}) rotate(-90)`)
        .attr("text-anchor", "middle").attr("font-size", fontSize).text(label);
}

// hexagon cells snapped to the hexbin lattice
function hexLayer(cells, x, y, colour, xAnchor, yAnchor, dx, dRow, id) {
    const w = Math.abs(x(xAnchor + dx) - x(xAnchor));
    const h = Math.abs(y(yAnchor + dRow) - y(yAnchor)) * 2;
    const hexPath = [[.5,-.5],[.5,.5],[0,1],[-.5,.5],[-.5,-.5],[0,-1]]
        .map(p => [p[0] * w, p[1] * h / 3]);
    const hexD = "M" + hexPath.map(p => p.join(",")).join("L") + "Z";
    const binned = new Map();
    cells.forEach(c => {
        const row = Math.round((c.y - yAnchor) / dRow);
        const shift = Math.abs(row % 2) === 1 ? dx / 2 : 0;
        const col = Math.round((c.x - xAnchor - shift) / dx);
        binned.set(row + "_" + col, { x: xAnchor + shift + col * dx, y: yAnchor + row * dRow, n: c.n });
    });
    defs.append("clipPath").attr("id", id).append("rect")
        .attr("x", x.range()[0]).attr("y", y.range()[0])
        .attr("width", x.range()[1] - x.range()[0]).attr("height", y.range()[1] - y.range()[0]);
    svg.append("g").attr("clip-path", `url(#${id})`)
        .selectAll("path").data([...binned.values()]).enter().append("path")
        .attr("d", hexD)
        .attr("transform", d => `translate(${x(d.x)},${y(d.y)})`)
        .attr("fill", d => colour(d.n))
        .attr("stroke", d => colour(d.n))
        .attr("stroke-width", 1.3)
        .attr("stroke-linejoin", "round");
}

function colourBar(id, yRange, nMax, major, minor, fmt, labelY) {
    const grad = defs.append("linearGradient").attr("id", id)
        .attr("x1", 0).attr("x2", 0).attr("y1", 1).attr("y2", 0);
    d3.range(0, 33).forEach(i => {
        grad.append("stop").attr("offset", i / 32).attr("stop-color", d3.interpolateInferno(i / 32));
    });
    const y = d3.scaleLog().domain([nMax, 1]).range(yRange);
    svg.append("rect").attr("x", barX[0]).attr("y", yRange[0])
        .attr("width", barX[1] - barX[0]).attr("height", yRange[1] - yRange[0])
        .attr("fill", `url(#${id})`).attr("stroke", "#000").attr("stroke-width", 1.1);
    const ax = svg.append("g").attr("transform", `translate(${barX[1]},0)`)
        .call(d3.axisRight(y).tickValues(major).tickFormat(() => "").tickSize(5));
    ax.select("path.domain").remove();
    ax.selectAll(".tick line").attr("stroke", "#000").attr("stroke-width", 1.1);
    ax.selectAll(".tick text").remove();
    const minorAx = svg.append("g").attr("transform", `translate(${barX[1]},0)`)
        .call(d3.axisRight(y).tickValues(minor).tickFormat(() => "").tickSize(3));
    minorAx.select("path.domain").remove();
    minorAx.selectAll(".tick line").attr("stroke", "#000").attr("stroke-width", 0.8);
    minorAx.selectAll(".tick text").remove();
    major.forEach(v => {
        const parts = fmt(v);
        const t = svg.append("text").attr("x", barX[1] + 12).attr("y", y(v) + tickFontSize * 0.36).attr("font-size", tickFontSize);
        t.append("tspan").text(parts[0]);
        t.append("tspan").attr("font-size", tickFontSize * 0.7).attr("dy", -tickFontSize * 0.42).text(parts[1]);
    });
    verticalLabel(labelY[0], labelY[1], "log10(N)");
}

// --- left texts ---
svg.append("text").attr("x", 200).attr("y", 105).attr("font-size", fontSize).text("g_LSST --> G_gaia");

const eq = svg.append("text").attr("x", 127.5).attr("y", 248).attr("font-size", 16.67);
const eqAfterSub = () => eq.append("tspan").attr("dy", -16.67 * 0.22);
eq.append("tspan").text("G_gaia - g_LSST = -0.037*");
mathTerm(eq, 16.67);
eqAfterSub().text("^2 -0.600*");
mathTerm(eq, 16.67);
eqAfterSub().text(" -0.056  [0.2 < ");
mathTerm(eq, 16.67);
eqAfterSub().text(" <= 2.9]  [rms: 0.010]");

// --- histogram ---
const binWidth = (histMax - histMin) / histCounts.length;
svg.append("g").selectAll("rect").data(histCounts).enter().append("rect")
    .attr("x", (d, i) => xHist(histMin + i * binWidth))
    .attr("width", (d, i) => xHist(histMin + (i + 1) * binWidth) - xHist(histMin + i * binWidth))
    .attr("y", d => yHist(d))
    .attr("height", d => yHist(0) - yHist(d))
    .attr("fill", "#1f77b4")
    .attr("shape-rendering", "crispEdges");
drawGrid(svg.append("g"), xHist, yHist, histXTicks, histYTicks);
drawFrame(xHist, yHist);
drawAxes(xHist, yHist, histXTicks, histYTicks, d3.format(".2f"), d3.format("d"));
svg.append("text").attr("x", 487).attr("y", 952).attr("text-anchor", "middle").attr("font-size", fontSize).text("residuals [mag]");
verticalLabel(63, 705, "Number");

// --- colour term panel ---
const colourCells = [];
bandOutliers.forEach(p => colourCells.push({ x: p[0], y: p[1], n: 1 }));
bandX.forEach((x, i) => {
    if (bandUpperN[i] > 0) colourCells.push({ x: x, y: bandY[i] + bandHalfWidth, n: bandUpperN[i] });
    if (bandLowerN[i] > 0) colourCells.push({ x: x, y: bandY[i] - bandHalfWidth, n: bandLowerN[i] });
});
bandX.forEach((x, i) => colourCells.push({ x: x, y: bandY[i], n: bandN[i] }));
hexLayer(colourCells, xColour, yColour, colourN, 2.686, -1.93, 0.02636, 0.0165, "clipTop");
drawGrid(svg.append("g"), xColour, yColour, colourXTicks, colourYTicks);
drawFrame(xColour, yColour);
drawAxes(xColour, yColour, colourXTicks, colourYTicks, d3.format("d"), d3.format(".1f"));
mathTerm(svg.append("text").attr("x", 1454).attr("y", 466).attr("text-anchor", "middle").attr("font-size", fontSize), fontSize);
verticalLabel(1061, 212, "G_gaia - g_LSST");
colourBar("gradTop", topPanel, colourNMax, colourBarMajor, colourBarMinor,
    v => ["10", v === 1 ? "0" : "1"], [1897, 217]);

// --- residual panel ---
const resCells = [];
resOnes.concat(resClumps).forEach(r => r[1].forEach(x => resCells.push({ x: x, y: r[0], n: 1 })));
[[resTwos, 2], [resThrees, 3], [resFours, 4], [resFives, 5], [resSixes, 6]].forEach(group => {
    group[0].forEach(p => resCells.push({ x: p[0], y: p[1], n: group[1] }));
});
hexLayer(resCells, xColour, yRes, resN, 2.686, 0.0002, 0.02636, 0.00055, "clipLow");
drawGrid(svg.append("g"), xColour, yRes, colourXTicks, resYTicks);
drawFrame(xColour, yRes);
drawAxes(xColour, yRes, colourXTicks, resYTicks, d3.format("d"), d3.format(".2f"));
mathTerm(svg.append("text").attr("x", 1454).attr("y", 957).attr("text-anchor", "middle").attr("font-size", fontSize), fontSize);
verticalLabel(1042, 702, "residuals [mag]");
colourBar("gradLow", lowPanel, resNMax, resBarMajor, resBarMinor,
    v => [v === 1 ? "10" : v + "\u200a\u00d7\u200a10", "0"], [1958, 707]);
</script>
</body>
</html>
